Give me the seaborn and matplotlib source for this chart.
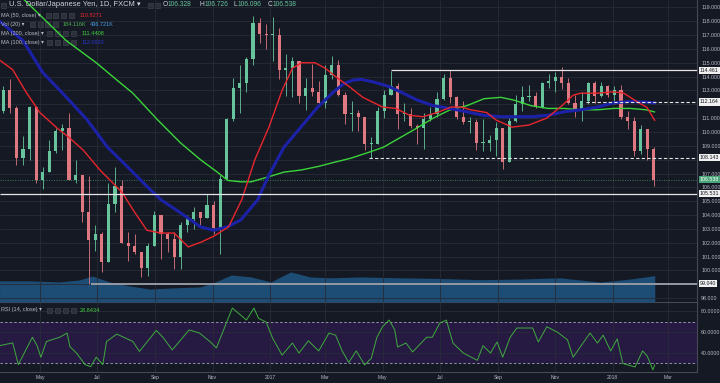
import matplotlib
matplotlib.use("Agg")
import matplotlib.pyplot as plt
from matplotlib.patches import Rectangle
import pandas as pd
import seaborn as sns

# weekly candles, weeks starting on Monday
first_week = "2016-03-21"
opens = [111.5, 113.0, 111.7, 108.1, 108.8, 111.8, 106.5, 107.1, 108.6, 110.1,
         110.3, 106.5, 106.9, 104.2, 102.2, 102.6, 100.6, 104.8, 106.1, 102.0,
         101.8, 101.3, 100.2, 101.8, 104.0, 102.6, 102.3, 101.0, 103.3, 103.7,
         104.2, 103.8, 104.7, 103.1, 106.6, 110.9, 113.2, 113.5, 115.3, 117.9,
         117.1, 117.0, 117.0, 114.5, 114.6, 115.1, 112.6, 113.2, 112.9, 112.1,
         114.1, 114.8, 112.7, 111.3, 111.4, 111.1, 109.1, 109.1, 111.5, 112.7,
         113.3, 111.3, 111.3, 110.4, 110.3, 110.9, 111.3, 112.4, 113.9, 112.5,
         111.1, 110.7, 110.7, 109.2, 109.2, 109.4, 110.3, 107.8, 110.8, 112.0,
         112.5, 112.6, 111.8, 113.5, 113.7, 114.0, 113.5, 112.1, 111.5, 112.2,
         113.5, 112.6, 113.3, 112.7, 113.0, 111.1, 110.8, 108.6, 110.2, 108.8]
highs = [113.3, 113.8, 111.9, 109.7, 111.9, 111.9, 107.5, 109.4, 110.3, 110.6,
         111.4, 108.0, 106.9, 106.8, 103.3, 102.8, 106.3, 107.5, 106.5, 102.8,
         102.6, 101.3, 102.0, 104.3, 104.0, 102.8, 102.8, 103.5, 104.0, 104.6,
         104.2, 105.5, 105.0, 106.9, 111.0, 113.9, 114.8, 115.4, 118.4, 118.2,
         117.8, 118.3, 117.5, 115.6, 115.4, 115.1, 113.9, 114.9, 113.7, 114.8,
         115.5, 115.2, 112.9, 112.2, 111.6, 111.1, 109.6, 111.8, 113.0, 114.4,
         113.5, 112.1, 111.7, 110.6, 111.4, 111.8, 112.9, 114.2, 114.5, 112.6,
         112.2, 111.1, 110.9, 110.9, 109.8, 110.7, 110.3, 111.0, 112.7, 113.3,
         113.4, 112.9, 113.6, 114.2, 114.3, 114.7, 113.9, 112.7, 112.9, 113.6,
         113.7, 113.6, 113.4, 113.3, 113.4, 111.5, 111.1, 110.5, 110.2, 108.9]
lows = [111.4, 111.4, 107.6, 107.6, 108.0, 106.3, 105.9, 107.1, 108.5, 108.7,
        106.5, 106.3, 103.5, 99.0, 101.4, 99.9, 100.6, 104.2, 102.0, 100.7,
        101.2, 99.5, 99.6, 101.8, 100.8, 101.3, 100.1, 100.1, 102.8, 103.0,
        103.2, 103.8, 102.6, 101.2, 106.6, 110.8, 111.4, 112.9, 114.8, 116.4,
        116.0, 115.1, 113.8, 112.6, 112.5, 112.1, 111.6, 112.6, 111.9, 111.7,
        113.8, 112.6, 110.6, 110.1, 110.1, 108.7, 108.1, 109.1, 111.0, 112.7,
        110.2, 110.8, 110.3, 109.1, 108.8, 110.8, 111.1, 112.3, 112.1, 110.9,
        110.6, 109.9, 108.7, 108.6, 108.6, 108.3, 107.3, 107.8, 110.7, 111.5,
        112.2, 111.7, 111.7, 113.2, 112.9, 113.1, 112.0, 111.1, 110.8, 112.0,
        112.1, 112.5, 112.5, 112.0, 110.9, 110.2, 108.3, 108.4, 108.0, 106.1]
closes = [113.0, 111.7, 108.1, 108.8, 111.8, 106.5, 107.1, 108.6, 110.1, 110.3,
          106.5, 106.9, 104.2, 102.2, 102.6, 100.6, 104.8, 106.1, 102.0, 101.8,
          101.3, 100.2, 101.8, 104.0, 102.6, 102.3, 101.0, 103.3, 103.7, 104.2,
          103.8, 104.7, 103.1, 106.6, 110.9, 113.2, 113.5, 115.3, 117.9, 117.1,
          117.0, 117.0, 114.5, 114.6, 115.1, 112.6, 113.2, 112.9, 112.1, 114.1,
          114.8, 112.7, 111.3, 111.4, 111.1, 109.1, 109.1, 111.5, 112.7, 113.3,
          111.3, 111.3, 110.4, 110.3, 110.9, 111.3, 112.4, 113.9, 112.5, 111.1,
          110.7, 110.7, 109.2, 109.2, 109.4, 110.3, 107.8, 110.8, 112.0, 112.5,
          112.6, 111.8, 113.5, 113.7, 114.0, 113.5, 112.1, 111.5, 112.2, 113.5,
          112.6, 113.3, 112.7, 113.0, 111.1, 110.8, 108.6, 110.2, 108.8, 106.5]

ma50_dates = ["2016-03-19", "2016-04-02", "2016-04-17", "2016-05-01", "2016-05-19",
              "2016-06-02", "2016-06-16", "2016-07-04", "2016-07-18", "2016-07-28",
              "2016-08-08", "2016-08-23", "2016-09-07", "2016-09-21", "2016-10-06",
              "2016-10-20", "2016-11-03", "2016-11-18", "2016-12-02", "2016-12-16",
              "2016-12-31", "2017-01-14", "2017-01-25", "2017-02-04", "2017-02-18",
              "2017-03-01", "2017-03-12", "2017-03-27", "2017-04-10", "2017-05-01",
              "2017-05-15", "2017-05-30", "2017-06-13", "2017-06-28", "2017-07-13",
              "2017-07-24", "2017-08-03", "2017-08-20", "2017-08-30", "2017-09-16",
              "2017-10-04", "2017-10-23", "2017-11-09", "2017-11-20", "2017-11-28",
              "2017-12-16", "2018-01-02", "2018-01-13", "2018-01-28", "2018-02-07",
              "2018-02-15"]
ma50_vals = [115.2, 114.5, 112.8, 111.4, 110.3, 109.55, 108.7, 107.25, 106.3, 105.6,
             104.4, 102.9, 102.7, 102.7, 101.7, 102.05, 102.5, 103.15, 105.1, 108.0,
             110.35, 113.0, 114.6, 115.0, 115.0, 114.6, 114.0, 113.25, 112.5, 111.8,
             111.7, 111.2, 111.1, 111.4, 111.8, 111.8, 111.6, 111.4, 110.86, 110.35,
             110.5, 111.0, 111.95, 112.65, 112.8, 112.8, 112.9, 112.8, 112.15, 111.75,
             110.83]

ma100_dates = ["2016-03-19", "2016-04-13", "2016-05-04", "2016-05-30", "2016-06-20",
               "2016-07-12", "2016-08-02", "2016-08-24", "2016-09-07", "2016-09-28",
               "2016-10-19", "2016-11-02", "2016-11-17", "2016-12-01", "2016-12-19",
               "2016-12-30", "2017-01-16", "2017-02-03", "2017-02-21", "2017-03-10",
               "2017-03-21", "2017-03-31", "2017-04-08", "2017-04-22", "2017-05-07",
               "2017-05-20", "2017-06-07", "2017-06-24", "2017-07-12", "2017-07-30",
               "2017-08-17", "2017-09-04", "2017-09-18", "2017-10-06", "2017-10-24",
               "2017-11-10", "2017-11-28", "2017-12-16", "2018-01-02", "2018-01-20",
               "2018-02-06", "2018-02-15"]
ma100_vals = [118.0, 116.6, 114.3, 112.45, 110.9, 108.9, 107.5, 106.0, 105.1, 104.15,
              103.15, 102.9, 103.15, 103.65, 105.1, 106.75, 108.9, 110.35, 111.8, 112.9,
              113.5, 113.75, 113.8, 113.6, 113.3, 112.9, 112.3, 111.9, 111.7, 111.45,
              111.2, 111.1, 111.1, 111.1, 111.2, 111.45, 111.6, 111.8, 112.1, 112.2,
              112.15, 112.1]

ma200_dates = ["2016-03-19", "2016-04-15", "2016-05-29", "2016-06-30", "2016-07-22",
               "2016-08-08", "2016-09-03", "2016-09-28", "2016-10-19", "2016-11-06",
               "2016-11-17", "2016-12-01", "2016-12-12", "2016-12-30", "2017-01-16",
               "2017-02-03", "2017-02-21", "2017-03-10", "2017-03-28", "2017-04-15",
               "2017-05-02", "2017-05-20", "2017-06-07", "2017-06-24", "2017-07-12",
               "2017-07-30", "2017-08-17", "2017-09-04", "2017-09-18", "2017-10-06",
               "2017-10-24", "2017-11-10", "2017-11-28", "2017-12-16", "2018-01-02",
               "2018-01-20", "2018-02-06", "2018-02-15"]
ma200_vals = [121.0, 119.5, 116.6, 115.0, 113.75, 112.8, 110.9, 109.2, 108.0, 107.1,
              106.5, 106.4, 106.4, 106.75, 107.1, 107.25, 107.5, 107.8, 108.1, 108.5,
              108.9, 109.6, 110.3, 111.0, 111.6, 111.9, 112.4, 112.5, 112.3, 111.9,
              111.7, 111.7, 111.6, 111.6, 111.7, 111.7, 111.6, 111.44]

# 20-period volume average, thousands
vol_dates = ["2016-03-19", "2016-04-20", "2016-05-22", "2016-06-12", "2016-06-26",
             "2016-07-14", "2016-08-05", "2016-08-26", "2016-09-17", "2016-10-19",
             "2016-11-04", "2016-11-21", "2016-12-12", "2017-01-02", "2017-01-23",
             "2017-02-13", "2017-03-06", "2017-04-08", "2017-05-20", "2017-07-01",
             "2017-08-13", "2017-09-25", "2017-11-06", "2017-12-19", "2018-01-20",
             "2018-02-15"]
vol_vals = [350, 350, 333, 365, 430, 333, 265, 215, 232, 250, 333, 448, 415, 333,
            498, 415, 400, 415, 400, 390, 370, 380, 400, 330, 380, 437]

rsi_dates = ["2016-03-19", "2016-04-02", "2016-04-08", "2016-04-23", "2016-04-28",
             "2016-05-02", "2016-05-08", "2016-05-22", "2016-05-30", "2016-06-02",
             "2016-06-09", "2016-06-18", "2016-06-24", "2016-06-30", "2016-07-07",
             "2016-07-11", "2016-07-22", "2016-08-08", "2016-08-15", "2016-09-02",
             "2016-09-09", "2016-09-19", "2016-10-07", "2016-10-18", "2016-10-29",
             "2016-11-05", "2016-11-16", "2016-11-22", "2016-12-01", "2016-12-07",
             "2016-12-15", "2016-12-20", "2016-12-28", "2017-01-04", "2017-01-14",
             "2017-01-25", "2017-02-01", "2017-02-11", "2017-02-22", "2017-03-05",
             "2017-03-12", "2017-03-19", "2017-03-26", "2017-04-03", "2017-04-12",
             "2017-04-19", "2017-04-25", "2017-05-01", "2017-05-08", "2017-05-14",
             "2017-05-17", "2017-05-26", "2017-06-02", "2017-06-17", "2017-06-23",
             "2017-07-01", "2017-07-08", "2017-07-15", "2017-07-26", "2017-08-10",
             "2017-08-16", "2017-08-24", "2017-08-31", "2017-09-06", "2017-09-14",
             "2017-09-21", "2017-10-08", "2017-10-14", "2017-10-23", "2017-11-03",
             "2017-11-14", "2017-11-20", "2017-12-08", "2017-12-16", "2017-12-22",
             "2017-12-30", "2018-01-06", "2018-01-12", "2018-01-25", "2018-02-02",
             "2018-02-07", "2018-02-13", "2018-02-15"]
rsi_vals = [47, 49.6, 29, 55, 47, 36, 51, 55, 59, 46,
            40, 29, 27, 36, 29, 51, 58, 51, 41.5, 61.5,
            55, 43, 62, 59, 51, 44.8, 69.5, 82.8, 76, 71.4,
            82.8, 73, 69.5, 54, 38, 49.5, 40, 51.6, 42, 59,
            57, 42, 31, 42, 28.6, 35, 55, 65, 71.4, 62,
            45.7, 49.5, 41, 55, 55, 68.5, 71.4, 49.5, 40, 33,
            47, 40, 50.5, 36, 55, 63.8, 63.8, 50.5, 65, 60,
            52.6, 36, 59, 49.5, 57, 42, 53.5, 30, 26.7, 42,
            37, 24, 28.84]

level_values = [114.461, 112.164, 108.143, 105.531, 99.040]
level_starts = ["2017-05-10", "2017-12-04", "2017-04-17", "2016-03-19", "2016-06-24"]
last_ohlc = [106.328, 106.726, 106.096, 106.538]
price_ticks = list(range(98, 120))
hidden_ticks = [99, 108, 112]  # sit under level boxes

tick_dates = ["2016-05-01", "2016-07-01", "2016-09-01", "2016-11-01", "2017-01-01",
              "2017-03-01", "2017-05-01", "2017-07-01", "2017-09-01", "2017-11-01",
              "2018-01-01", "2018-03-01"]
tick_labels = ["May", "Jul", "Sep", "Nov", "2017", "Mar", "May", "Jul", "Sep", "Nov",
               "2018", "Mar"]

BG = "#151924"
GRID = "#272b36"
TXT = "#b8bbc4"
UP = "#67c49c"
DOWN = "#df7880"
EDGE = "#454955"

sns.set_theme(style="dark", rc={"axes.facecolor": BG, "figure.facecolor": BG})
plt.rcParams["font.family"] = ["Liberation Sans", "DejaVu Sans"]

fig = plt.figure(figsize=(7.2, 3.83), dpi=100, facecolor=BG)
ax = fig.add_axes([0, 1 - 302 / 383, 697 / 720, 302 / 383])
ax_rsi = fig.add_axes([0, 1 - 372 / 383, 697 / 720, 70 / 383], sharex=ax)
ax_vol = ax.twinx()
ax_vol.set_zorder(1)
ax.set_zorder(2)
ax.patch.set_visible(False)
ax_vol.patch.set_facecolor(BG)

x0, x1 = pd.Timestamp("2016-03-19 12:00"), pd.Timestamp("2018-04-01")

# volume average area
ax_vol.fill_between(pd.to_datetime(vol_dates), 0, vol_vals, color="#1d4c74", lw=0)
ax_vol.set_ylim(0, 5000)
ax_vol.set_yticks([])
for s in ax_vol.spines.values():
    s.set_visible(False)

# candles
candles = pd.DataFrame({"open": opens, "high": highs, "low": lows, "close": closes})
candles["date"] = pd.date_range(first_week, periods=len(candles), freq="7D") + pd.Timedelta(days=2)
colors = [UP if c >= o else DOWN for o, c in zip(candles.open, candles.close)]
ax.vlines(candles.date, candles.low, candles.high, colors=colors, lw=0.6, zorder=3)
body_lo = candles[["open", "close"]].min(axis=1)
body_h = (candles.close - candles.open).abs().clip(lower=0.07)
ax.bar(candles.date, body_h, bottom=body_lo, width=3.4, color=colors, lw=0, zorder=4)

# moving averages
sns.lineplot(x=pd.to_datetime(ma200_dates), y=ma200_vals, ax=ax, color="#3bd43a", lw=1.0, zorder=5)
sns.lineplot(x=pd.to_datetime(ma100_dates), y=ma100_vals, ax=ax, color="#1c22a8", lw=2.2, zorder=5)
sns.lineplot(x=pd.to_datetime(ma50_dates), y=ma50_vals, ax=ax, color="#e8262d", lw=1.0, zorder=6)

# horizontal levels
level_ls = ["-", (0, (3, 2)), (0, (3, 2)), "-", "-"]
level_col = ["#e6e6e6", "#e6e6e6", "#e6e6e6", "#e6e6e6", "#9ea2ab"]
level_lw = [0.9, 0.8, 0.8, 0.9, 1.3]
for v, st, ls, c, lw in zip(level_values, level_starts, level_ls, level_col, level_lw):
    ax.hlines(v, pd.Timestamp(st), x1, colors=c, linestyles=ls, lw=lw, zorder=7)
ax.axhline(last_ohlc[3], color="#3b7d5c", ls=(0, (1, 1.5)), lw=0.7, zorder=2)

ax.set_xlim(x0, x1)
ax.set_ylim(97.72, 119.53)
ax.yaxis.tick_right()
ax.set_yticks(price_ticks)
ax.set_yticklabels(["" if v in hidden_ticks else f"{v:.3f}" for v in price_ticks])
ax.tick_params(axis="y", length=0, pad=3, labelsize=3.8, labelcolor=TXT)
ax.tick_params(axis="x", length=0, labelbottom=False)
ax.grid(True, color=GRID, lw=0.6)
ax.set_xlabel("")
ax.set_ylabel("")
for k, s in ax.spines.items():
    s.set_visible(k == "right")
ax.spines["right"].set_color(EDGE)
ax.spines["right"].set_linewidth(0.8)

ytr = ax.get_yaxis_transform()
for v in level_values:
    ax.text(1.004, v, f"{v:.3f}", transform=ytr, ha="left", va="center", fontsize=3.8,
            color="#131722", bbox=dict(boxstyle="square,pad=0.2", fc="#f0f0f0", ec="none"),
            clip_on=False, zorder=10)
ax.text(1.004, last_ohlc[3], f"{last_ohlc[3]:.3f}", transform=ytr, ha="left", va="center",
        fontsize=3.8, color="white", bbox=dict(boxstyle="square,pad=0.2", fc="#4aa57a", ec="none"),
        clip_on=False, zorder=10)

# RSI pane
ax_rsi.axhspan(30, 70, color="#261a42", lw=0, zorder=0)
for v in (70, 30):
    ax_rsi.axhline(v, color="#a8a2c2", ls=(0, (3, 2.5)), lw=0.6, zorder=2)
sns.lineplot(x=pd.to_datetime(rsi_dates), y=rsi_vals, ax=ax_rsi, color="#3faa3f", lw=0.7, zorder=3)
ax_rsi.set_ylim(21.9, 88.6)
ax_rsi.yaxis.tick_right()
ax_rsi.set_yticks([40, 60, 80])
ax_rsi.set_yticklabels([f"{v:.4f}" for v in (40, 60, 80)])
ax_rsi.set_xticks(pd.to_datetime(tick_dates))
ax_rsi.set_xticklabels(tick_labels)
ax_rsi.tick_params(axis="y", length=0, pad=3, labelsize=3.8, labelcolor=TXT)
ax_rsi.tick_params(axis="x", length=0, pad=2.5, labelsize=3.6, labelcolor=TXT)
ax_rsi.grid(True, color=GRID, lw=0.6)
ax_rsi.set_xlabel("")
ax_rsi.set_ylabel("")
for k, s in ax_rsi.spines.items():
    s.set_visible(k in ("right", "top", "bottom"))
    s.set_color(EDGE)
    s.set_linewidth(0.8)
ax_rsi.set_xlim(x0, x1)


# header texts (pixel positions)
def ftext(x, y, s, color=TXT, size=4.0, **kw):
    fig.text(x / 720, 1 - y / 383, s, color=color, fontsize=size, va="center", ha="left", **kw)


def icons(xs, y):
    for x in xs:
        fig.add_artist(Rectangle((x / 720, 1 - (y + 2.5) / 383), 5 / 720, 5 / 383,
                                 transform=fig.transFigure, fc="#2c303b", ec="#474b56", lw=0.4))


icons([1], 5)
ftext(9, 5, "U.S. Dollar/Japanese Yen, 1D, FXCM ▾", color="#d1d4dc", size=5.4)
icons([148, 155], 5)
for lx, letter, val in zip([163, 200, 233, 268], "OHLC", last_ohlc):
    ftext(lx, 5, letter, color="#d1d4dc", size=4.8)
    ftext(lx + 4.5, 5, f"{val:.3f}", color=UP, size=4.8)

ftext(1, 15.5, "MA (50, close) ▾")
icons([46, 53, 61, 69], 15.5)
ftext(80, 15.5, "110.8271", color="#e8262d")

ftext(1, 24.5, "Vol (20) ▾")
icons([30, 38, 45, 53], 24.5)
ftext(63, 24.5, "184.116K", color="#4caf50")
ftext(90, 24.5, "436.721K", color="#4a9fe0")

ftext(1, 33.7, "MA (200, close) ▾")
icons([47, 55, 63, 71], 33.7)
ftext(82, 33.7, "111.4408", color="#3bd43a")

ftext(1, 42.7, "MA (100, close) ▾")
icons([47, 55, 63, 71], 42.7)
ftext(82, 42.7, "112.0920", color="#2a35c8")

ftext(1, 310, "RSI (14, close) ▾")
icons([47, 55, 63, 71], 310)
ftext(80, 310, "28.8434", color="#3fcf3f")

fig.savefig("out.png", dpi=100, facecolor=BG)
